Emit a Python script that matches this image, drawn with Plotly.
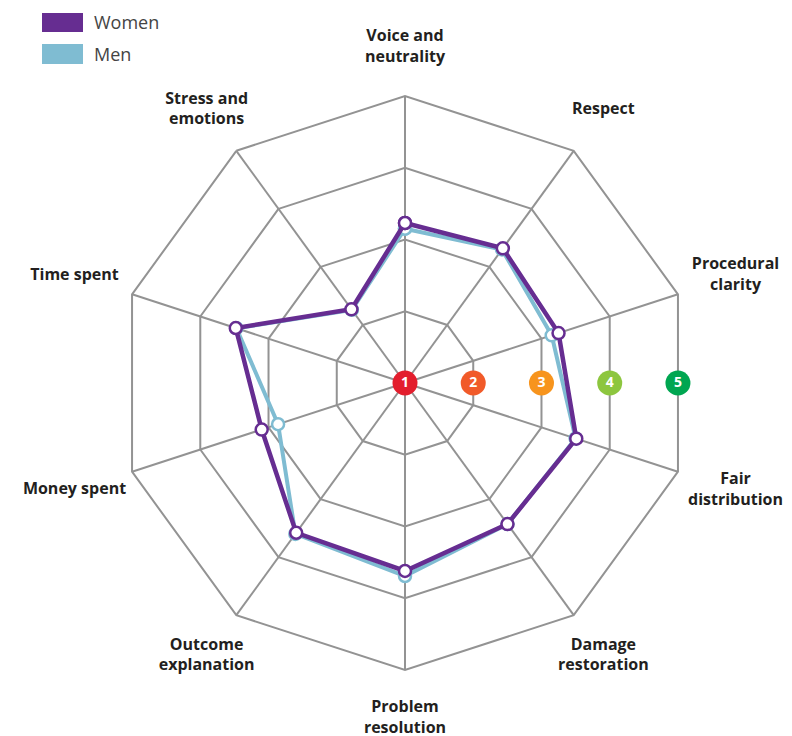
import math
import plotly.graph_objects as go

categories = ["Voice and neutrality", "Respect", "Procedural clarity", "Fair distribution",
              "Damage restoration", "Problem resolution", "Outcome explanation",
              "Money spent", "Time spent", "Stress and emotions"]
category_labels = ["Voice and<br>neutrality", "Respect", "Procedural<br>clarity", "Fair<br>distribution",
                   "Damage<br>restoration", "Problem<br>resolution", "Outcome<br>explanation",
                   "Money spent", "Time spent", "Stress and<br>emotions"]
women = [3.23, 3.32, 3.25, 3.51, 3.43, 3.62, 3.58, 3.10, 3.48, 2.27]
men = [3.15, 3.30, 3.15, 3.50, 3.43, 3.69, 3.60, 2.86, 3.47, 2.26]
scale_labels = ["1", "2", "3", "4", "5"]
scale_values = [1, 2, 3, 4, 5]
scale_colors = ["#e31e2d", "#f15a29", "#f7941d", "#8dc63f", "#00a651"]

PURPLE = "#662d91"
BLUE = "#7fbcd2"
GRID = "#939393"

# label radius: just outside the outer ring, pushed a little further for side labels
LABEL_R = 5.68
SIDE_EXTRA = 0.2
n = len(categories)
label_r = [LABEL_R + SIDE_EXTRA * abs(math.sin(2 * math.pi * i / n)) ** 4 for i in range(n)]

fig = go.Figure()

def closed(v):
    return v + v[:1]

fig.add_trace(go.Scatterpolar(
    r=closed(men), theta=closed(categories), name="Men", mode="lines+markers",
    line=dict(color=BLUE, width=4),
    marker=dict(size=12, color="white", line=dict(color=BLUE, width=2.5)),
    showlegend=False, subplot="polar"))
fig.add_trace(go.Scatterpolar(
    r=closed(women), theta=closed(categories), name="Women", mode="lines+markers",
    line=dict(color=PURPLE, width=4.5),
    marker=dict(size=12, color="white", line=dict(color=PURPLE, width=2.5)),
    showlegend=False, subplot="polar"))

fig.add_trace(go.Scatterpolar(
    r=scale_values, theta=[90] * len(scale_values), mode="markers+text",
    text=scale_labels, textposition="middle center",
    textfont=dict(family="Open Sans", size=14, color="white", weight="bold"),
    marker=dict(size=25, color=scale_colors, line=dict(width=0)),
    showlegend=False, hoverinfo="skip", subplot="polar2"))

# category labels, centred on each spoke outside the outer ring (larger invisible polar)
fig.add_trace(go.Scatterpolar(
    r=label_r, theta=categories, mode="text",
    text=category_labels, textposition="middle center", cliponaxis=False,
    textfont=dict(family="Open Sans", size=16, color="#231f20", weight="bold"),
    showlegend=False, hoverinfo="skip", subplot="polar3"))

cx, cy, R = 405, 383, 287
W, H = 792, 736
R3 = 350
dom_x = [(cx - R) / W, (cx + R) / W]
dom_y = [(H - cy - R) / H, (H - cy + R) / H]
dom3_x = [(cx - R3) / W, (cx + R3) / W]
dom3_y = [(H - cy - R3) / H, (H - cy + R3) / H]
cos18 = math.cos(math.radians(18))

hidden_angular = dict(direction="clockwise", rotation=90, visible=False)

fig.update_layout(
    width=W, height=H, autosize=False,
    margin=dict(l=0, r=0, t=0, b=0),
    paper_bgcolor="white", plot_bgcolor="white",
    polar=dict(
        domain=dict(x=dom_x, y=dom_y),
        bgcolor="white",
        gridshape="linear",
        radialaxis=dict(range=[1, 5], tick0=1, dtick=1, showticklabels=False, ticks="",
                        showline=False, gridcolor=GRID, gridwidth=2),
        angularaxis=dict(direction="clockwise", rotation=90, categoryorder="array",
                         categoryarray=categories, showticklabels=False, ticks="",
                         gridcolor=GRID, gridwidth=2, linecolor=GRID, linewidth=2),
    ),
    polar2=dict(
        domain=dict(x=dom_x, y=dom_y),
        bgcolor="rgba(0,0,0,0)",
        radialaxis=dict(range=[1, 1 + 4 / cos18], visible=False),
        angularaxis=dict(hidden_angular, thetaunit="degrees"),
    ),
    polar3=dict(
        domain=dict(x=dom3_x, y=dom3_y),
        bgcolor="rgba(0,0,0,0)",
        radialaxis=dict(range=[1, 1 + 4 * R3 / R], visible=False),
        angularaxis=dict(hidden_angular, type="category", categoryorder="array",
                         categoryarray=categories),
    ),
    shapes=[
        dict(type="rect", xref="paper", yref="paper", x0=42 / W, x1=83 / W,
             y0=1 - 32 / H, y1=1 - 13 / H, fillcolor=PURPLE, line=dict(width=0)),
        dict(type="rect", xref="paper", yref="paper", x0=42 / W, x1=83 / W,
             y0=1 - 64 / H, y1=1 - 44 / H, fillcolor=BLUE, line=dict(width=0)),
    ],
    annotations=[
        dict(text="Women", xref="paper", yref="paper", x=92 / W, y=1 - 22 / H,
             xanchor="left", yanchor="middle", showarrow=False,
             font=dict(family="Open Sans", size=18, color="#444444")),
        dict(text="Men", xref="paper", yref="paper", x=92 / W, y=1 - 54 / H,
             xanchor="left", yanchor="middle", showarrow=False,
             font=dict(family="Open Sans", size=18, color="#444444")),
    ],
)

fig.write_html("out.html", config={"displayModeBar": False},
               post_script="document.body.style.margin='0';document.body.style.padding='0';")
